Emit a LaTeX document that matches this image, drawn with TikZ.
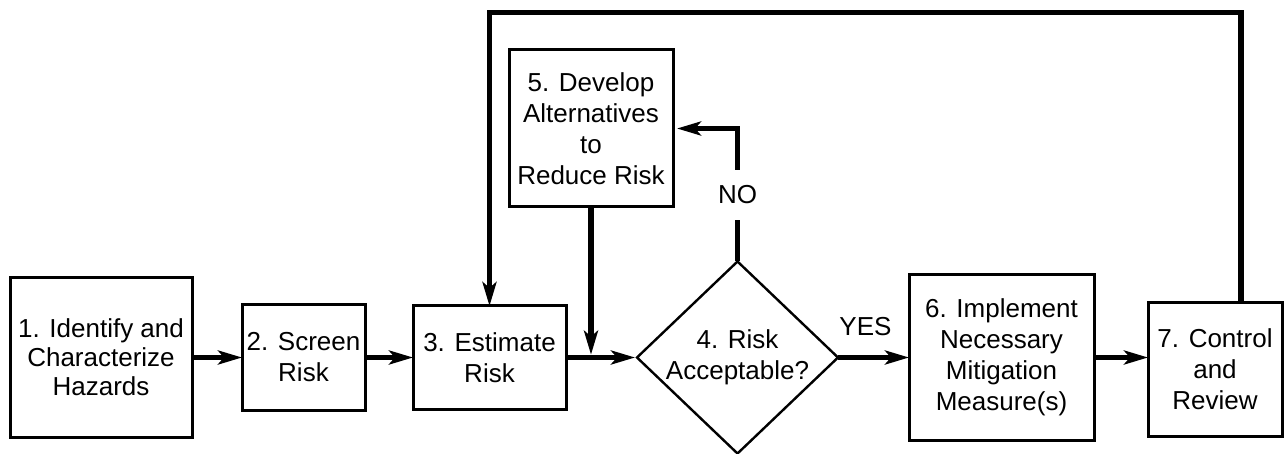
\documentclass[tikz,border=0pt]{standalone}
\usepackage{fontspec}
\setmainfont{Liberation Sans}
\usetikzlibrary{positioning,calc,shapes.geometric,arrows.meta}

\tikzset{
    stepbox/.style={draw, line width=1.5pt, align=center, inner sep=0pt, outer sep=0pt,
        font=\fontsize{13}{15.5}\selectfont},
    choice/.style={draw, diamond, line width=1.2pt, align=center, inner sep=-2pt,
        outer sep=0pt, minimum width=100.5pt, minimum height=96pt,
        font=\fontsize{13}{15.5}\selectfont},
    flow/.style={line width=2.8pt, -{Stealth[length=12pt,width=7pt,inset=3pt]}},
    tag/.style={font=\fontsize{13}{15.5}\selectfont},
}

\begin{document}
\begin{tikzpicture}
    \useasboundingbox (0,0) rectangle (642.5pt,-227pt);

    \node[stepbox, minimum width=91pt, minimum height=79.5pt,
        font=\fontsize{13}{14.5}\selectfont] (s1) at (50.5pt,-178.75pt)
        {1. Identify and\\Characterize\\Hazards};
    \node[stepbox, right=25pt of s1, minimum width=61.5pt, minimum height=53pt] (s2)
        {2. Screen\\Risk};
    \node[stepbox, right=24pt of s2, minimum width=76.5pt, minimum height=51.5pt] (s3)
        {3. Estimate\\Risk};
    \node[choice, right=35.5pt of s3] (s4) {4. Risk\\Acceptable?};
    \node[stepbox, right=35.5pt of s4, minimum width=92.5pt, minimum height=82.5pt] (s6)
        {6. Implement\\Necessary\\Mitigation\\Measure(s)};
    \node[stepbox, right=27pt of s6, yshift=-6pt, minimum width=67pt, minimum height=67pt] (s7)
        {7. Control\\and\\Review};
    \node[stepbox, minimum width=82pt, minimum height=78.5pt] (s5) at ($(s3)+(50.75pt,114.5pt)$)
        {5. Develop\\Alternatives\\to\\Reduce Risk};

    \coordinate (t1) at ($(s5.north)+(0,18.75pt)$);

    \draw[flow] (s1) -- (s2);
    \draw[flow] (s2) -- (s3);
    \draw[flow, shorten >=1pt] (s3) -- (s4);
    \draw[flow, shorten >=1.4pt] (s5) -- (s5 |- s3);
    \draw[flow, shorten >=2pt] (s4.north) -- (s4.north |- s5.east)
        node[pos=0.5, fill=white, tag, inner xsep=2pt, inner ysep=8pt] {NO} -- (s5.east);
    \draw[flow] (s4) -- (s6) node[midway, above=6pt, xshift=-4pt, tag] {YES};
    \draw[flow] (s6.east) -- (s6.east -| s7.west);
    \draw[flow] ([xshift=13pt]s7.north) |- (t1) -| (s3);
\end{tikzpicture}
\end{document}
